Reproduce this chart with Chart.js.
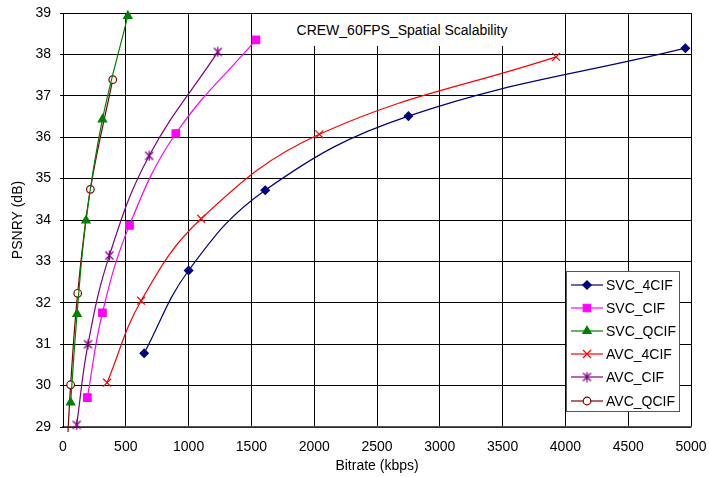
<!DOCTYPE html>
<html>
<head>
<meta charset="utf-8">
<script src="https://cdn.jsdelivr.net/npm/chart.js@4/dist/chart.umd.min.js"></script>
<style>
  body { margin: 0; background: #fff; }
  #wrap { position: relative; width: 709px; height: 477px; font-family: 'Liberation Sans', Arial, sans-serif; }
  #chartTitle {
    position: absolute; left: 284px; top: 14px; width: 236px; height: 32px;
    background: #fff; font-size: 14px; line-height: 32px; text-align: center; color: #000;
  }
  #legendBox {
    position: absolute; left: 566px; top: 271px; width: 112px; height: 138px;
    background: #fff; border: 1px solid #555; padding-top: 1px;
  }
  .item { height: 23.2px; display: flex; align-items: center; font-size: 14px; color: #000; }
  .item canvas { margin-left: 4px; margin-right: 3px; }
</style>
</head>
<body>
<div id="wrap">
  <canvas id="psnrChart" width="709" height="477"></canvas>
  <div id="chartTitle">CREW_60FPS_Spatial Scalability</div>
  <div id="legendBox"></div>
</div>
<script>
// bitrate (kbps) and PSNR Y (dB) per series
const svc4cifRate = [646, 1000, 1610, 2750, 4955];
const svc4cifPsnr = [30.78, 32.78, 34.72, 36.51, 38.15];
const svcCifRate = [194, 314, 529, 898, 1536];
const svcCifPsnr = [29.71, 31.76, 33.87, 36.09, 38.35];
const svcQcifRate = [61, 112, 183, 314, 516];
const svcQcifPsnr = [29.59, 31.73, 33.99, 36.43, 38.93];
const avc4cifRate = [351, 622, 1100, 2041, 3926];
const avc4cifPsnr = [30.07, 32.05, 34.03, 36.07, 37.94];
const avcCifRate = [109, 199, 369, 686, 1233];
const avcCifPsnr = [29.05, 31.0, 33.14, 35.55, 38.06];
const avcQcifRate = [25, 61, 117, 218, 396];
const avcQcifPsnr = [28.0, 30.02, 32.23, 34.74, 37.39];

const seriesNames = ['SVC_4CIF', 'SVC_CIF', 'SVC_QCIF', 'AVC_4CIF', 'AVC_CIF', 'AVC_QCIF'];
const seriesColors = ['#000080', '#FF00FF', '#008000', '#FF0000', '#800080', '#800000'];

const FONT = "'Liberation Sans', Arial, sans-serif";

// excel style asterisk marker (x with a vertical bar)
const makeAsterisk = (color) => {
    const c = document.createElement('canvas');
    c.width = 11; c.height = 11;
    const g = c.getContext('2d');
    g.strokeStyle = color;
    g.lineWidth = 1.3;
    g.beginPath();
    g.moveTo(1.5, 1.5); g.lineTo(9.5, 9.5);
    g.moveTo(9.5, 1.5); g.lineTo(1.5, 9.5);
    g.moveTo(5.5, 0.5); g.lineTo(5.5, 10.5);
    g.stroke();
    return c;
};

const toPoints = (xs, ys) => xs.map((x, i) => ({ x: x, y: ys[i] }));

const markers = [
    { style: 'rectRot', radius: 4.2, fill: seriesColors[0] },
    { style: 'rect', radius: 5.3, fill: seriesColors[1] },
    { style: 'triangle', radius: 4.8, fill: seriesColors[2] },
    { style: 'crossRot', radius: 5.6, fill: seriesColors[3] },
    { style: makeAsterisk(seriesColors[4]), radius: 5.5, fill: seriesColors[4] },
    { style: 'circle', radius: 3.8, fill: '#fff' }
];

const seriesData = [
    toPoints(svc4cifRate, svc4cifPsnr),
    toPoints(svcCifRate, svcCifPsnr),
    toPoints(svcQcifRate, svcQcifPsnr),
    toPoints(avc4cifRate, avc4cifPsnr),
    toPoints(avcCifRate, avcCifPsnr),
    toPoints(avcQcifRate, avcQcifPsnr)
];

const datasets = seriesNames.map((name, i) => ({
    label: name,
    data: seriesData[i],
    borderColor: seriesColors[i],
    borderWidth: 1.2,
    tension: 0.4,
    pointStyle: markers[i].style,
    pointRadius: markers[i].radius,
    pointBackgroundColor: markers[i].fill,
    pointBorderColor: seriesColors[i],
    pointBorderWidth: 1.2,
    clip: 5
}));

const ctx = document.getElementById('psnrChart').getContext('2d');
const psnrChart = new Chart(ctx, {
    type: 'line',
    data: { datasets: datasets },
    options: {
        responsive: false,
        animation: false,
        events: [],
        layout: { padding: { top: 13, right: 18, left: 0, bottom: 0 } },
        plugins: { legend: { display: false }, tooltip: { enabled: false } },
        scales: {
            x: {
                type: 'linear',
                min: 0,
                max: 5000,
                ticks: { stepSize: 500, color: '#000', font: { family: FONT, size: 14 }, padding: 12, maxRotation: 0,
                         callback: (v) => String(v) },
                grid: { color: '#000', lineWidth: 1, drawTicks: false },
                border: { color: '#555', width: 1.5 },
                title: { display: true, text: 'Bitrate (kbps)', color: '#000', font: { family: FONT, size: 14 }, padding: { top: 0, bottom: 2 } },
                afterFit: (scale) => { scale.height = 50; scale.paddingLeft = 0; scale.paddingRight = 0; }
            },
            y: {
                type: 'linear',
                min: 29,
                max: 39,
                ticks: { stepSize: 1, color: '#000', font: { family: FONT, size: 14 }, padding: 9,
                         callback: (v) => String(v) },
                grid: { color: '#000', lineWidth: 1, tickLength: 3 },
                border: { color: '#000', width: 1 },
                title: { display: true, text: 'PSNRY (dB)', color: '#000', font: { family: FONT, size: 14 }, padding: { top: 10, bottom: 0 } },
                afterFit: (scale) => { scale.width = 63; scale.paddingTop = 0; scale.paddingBottom = 0; }
            }
        }
    }
});

// legend built from the same series
const legendBox = document.getElementById('legendBox');
seriesNames.forEach((name, i) => {
    const row = document.createElement('div');
    row.className = 'item';
    const icon = document.createElement('canvas');
    icon.width = 32; icon.height = 14;
    const g = icon.getContext('2d');
    g.strokeStyle = seriesColors[i];
    g.lineWidth = 1.2;
    g.beginPath(); g.moveTo(0, 7); g.lineTo(32, 7); g.stroke();
    g.fillStyle = markers[i].fill;
    g.strokeStyle = seriesColors[i];
    Chart.helpers.drawPoint(g, { pointStyle: markers[i].style, radius: markers[i].radius, borderWidth: 1.2 }, 16, 7);
    const label = document.createElement('span');
    label.textContent = name;
    row.appendChild(icon);
    row.appendChild(label);
    legendBox.appendChild(row);
});
</script>
</body>
</html>
